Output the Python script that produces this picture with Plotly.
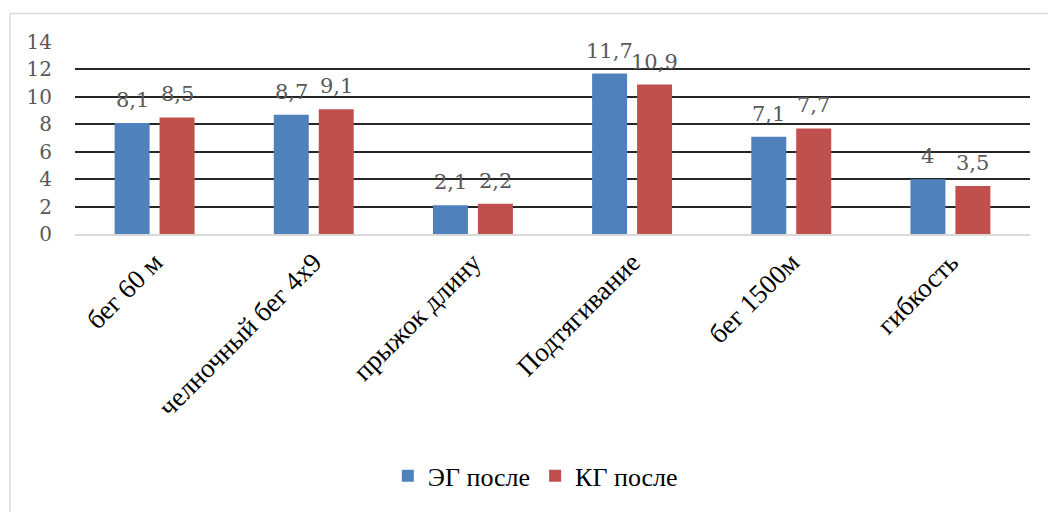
import plotly.graph_objects as go

# Test names (x axis) and mean results after the experiment
categories = ["бег 60 м", "челночный бег 4х9", "прыжок длину", "Подтягивание", "бег 1500м", "гибкость"]
eg_after = [8.1, 8.7, 2.1, 11.7, 7.1, 4.0]
kg_after = [8.5, 9.1, 2.2, 10.9, 7.7, 3.5]
labels_eg = ["8,1", "8,7", "2,1", "11,7", "7,1", "4"]
labels_kg = ["8,5", "9,1", "2,2", "10,9", "7,7", "3,5"]
y_ticks = [0, 2, 4, 6, 8, 10, 12, 14]

BLUE = "#4F81BD"
RED = "#C0504D"
NUM_FONT = dict(family="DejaVu Serif", size=20, color="#595959")

fig = go.Figure()
fig.add_trace(go.Bar(name="ЭГ после", x=categories, y=eg_after, marker_color=BLUE,
                     marker_line_width=0))
fig.add_trace(go.Bar(name="КГ после", x=categories, y=kg_after, marker_color=RED,
                     marker_line_width=0))

# value labels above each bar
for vals, labs, shift in ((eg_after, labels_eg, -22.5), (kg_after, labels_kg, 22.5)):
    for c, v, t in zip(categories, vals, labs):
        fig.add_annotation(x=c, y=v, text=t, showarrow=False, xshift=shift, yshift=23,
                           font=dict(NUM_FONT, size=21))

# outer chart frame: only the left and top edges fall inside the page
frame = dict(color="#D9D9D9", width=1.5)
fig.add_shape(type="line", xref="paper", yref="paper", x0=-0.068, x1=-0.068, y0=-2.0, y1=1.149,
              line=frame, layer="below")
fig.add_shape(type="line", xref="paper", yref="paper", x0=-0.068, x1=1.3, y0=1.149, y1=1.149,
              line=frame, layer="below")

fig.update_layout(
    width=1048, height=512,
    margin=dict(l=75, r=18, t=42, b=276),
    plot_bgcolor="white", paper_bgcolor="white",
    barmode="group", bargap=0.435, bargroupgap=0.222,
    showlegend=True,
    legend=dict(orientation="h", x=0.482, xanchor="center", y=-1.26, yanchor="middle",
                font=dict(family="Liberation Serif", size=26, color="#000000"),
                itemwidth=30, traceorder="normal"),
)
fig.update_xaxes(tickangle=-45, tickfont=dict(family="Liberation Serif", size=27, color="#000000"),
                 showline=True, linecolor="#D9D9D9", linewidth=1.5, ticks="")
fig.update_yaxes(range=[0, 14], tickvals=y_ticks, tickfont=NUM_FONT, showgrid=True,
                 gridcolor="#262626", gridwidth=1.5, zeroline=False, ticks="", ticklabelstandoff=22)

fig.write_html("out.html")
